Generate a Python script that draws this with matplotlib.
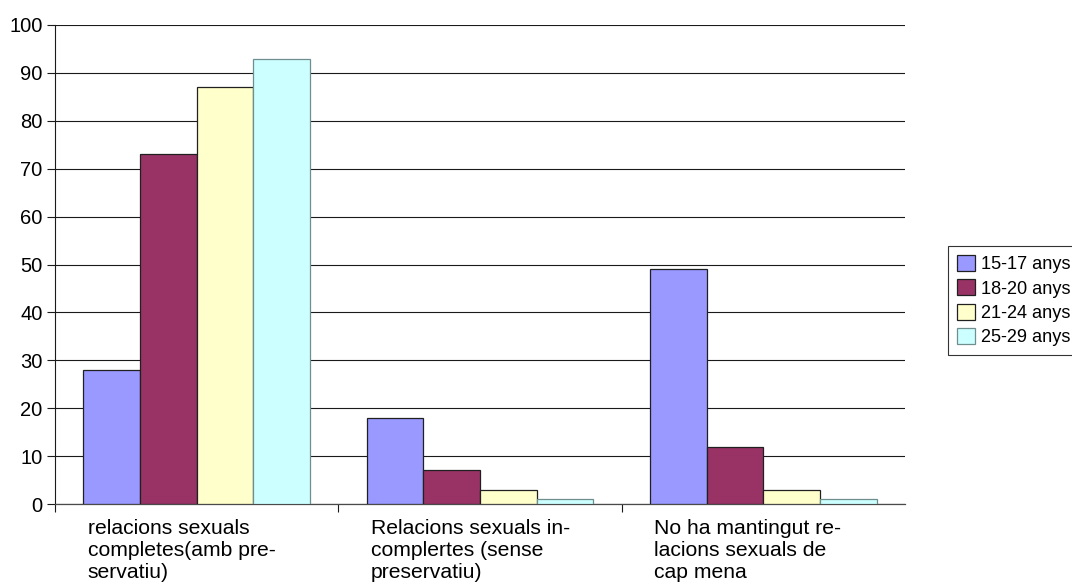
import matplotlib
matplotlib.use("Agg")
import matplotlib.pyplot as plt
import numpy as np

plt.rcParams['font.family'] = ['Liberation Sans', 'DejaVu Sans']

categories = [
    "relacions sexuals\ncompletes(amb pre-\nservatiu)",
    "Relacions sexuals in-\ncomplertes (sense\npreservatiu)",
    "No ha mantingut re-\nlacions sexuals de\ncap mena",
]
series_names = ["15-17 anys", "18-20 anys", "21-24 anys", "25-29 anys"]
values = {
    "15-17 anys": [28, 18, 49],
    "18-20 anys": [73, 7, 12],
    "21-24 anys": [87, 3, 3],
    "25-29 anys": [93, 1, 1],
}
y_ticks = list(range(0, 101, 10))

fills = ["#9999FF", "#993366", "#FFFFCC", "#CCFFFF"]
edges = ["#202020", "#202020", "#202020", "#6f8f8f"]

fig = plt.figure(figsize=(10.72, 5.85), dpi=100)
ax = fig.add_axes([55 / 1072, 1 - 504 / 585, 850 / 1072, 479 / 585])

n_groups = len(categories)
n_series = len(series_names)
bar_w = 0.2
centers = np.arange(n_groups) + 0.5
for k, name in enumerate(series_names):
    xs = centers - bar_w * n_series / 2 + bar_w * (k + 0.5)
    ax.bar(xs, values[name], width=bar_w, color=fills[k], edgecolor=edges[k],
           linewidth=0.9, label=name, zorder=3)

ax.set_xlim(0, n_groups)
ax.set_ylim(0, 100)
ax.set_yticks(y_ticks)
ax.set_yticklabels([str(t) for t in y_ticks], fontsize=14.5)
ax.yaxis.grid(True, color="#1a1a1a", linewidth=0.8, zorder=0)
ax.set_axisbelow(True)

# category separators below the axis (none at the far right end)
ax.set_xticks(np.arange(n_groups))
ax.set_xticklabels([])
ax.tick_params(axis="x", direction="out", length=6, width=0.8, color="#1a1a1a")
ax.tick_params(axis="y", direction="out", length=6, width=0.8, color="#1a1a1a", pad=3)

for side in ("top", "right"):
    ax.spines[side].set_visible(False)
ax.spines["left"].set_color("#1a1a1a")
ax.spines["left"].set_linewidth(0.8)
ax.spines["bottom"].set_color("#4a4a4a")
ax.spines["bottom"].set_linewidth(0.9)

for i, label in enumerate(categories):
    ax.annotate(label, xy=(i + 0.115, 0), xycoords=("data", "axes fraction"),
                xytext=(0, -11), textcoords="offset points",
                ha="left", va="top", fontsize=15.2, linespacing=1.18,
                multialignment="left")

leg = fig.legend(loc="upper left", bbox_to_anchor=(948 / 1072, 1 - 246 / 585),
                 bbox_transform=fig.transFigure, fontsize=13.1, frameon=True,
                 fancybox=False, shadow=False, borderaxespad=0,
                 handlelength=0.98, handleheight=0.98, handletextpad=0.35,
                 labelspacing=0.33, borderpad=0.5)
leg.get_frame().set_edgecolor("black")
leg.get_frame().set_linewidth(0.8)

fig.savefig("out.png", dpi=100)
